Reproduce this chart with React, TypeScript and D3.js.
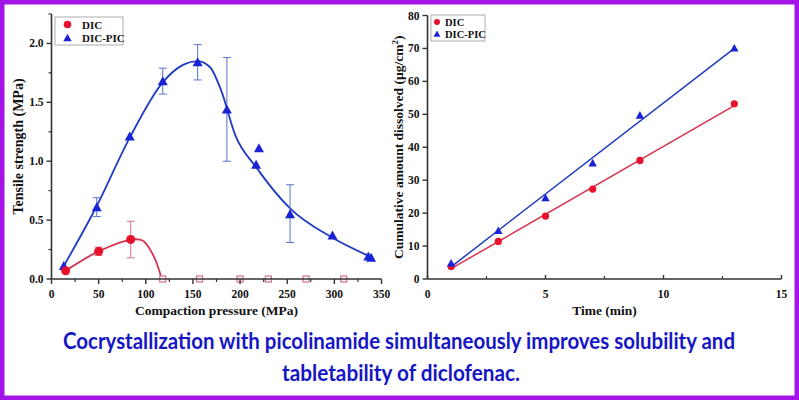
import React from "react";
import * as d3 from "d3";

// ---------- Left chart data ----------
const dicPicPressure = [13, 48, 83, 118, 155, 186, 217, 220, 253, 298, 336, 339];
const dicPicTensile = [0.11, 0.61, 1.21, 1.68, 1.84, 1.44, 0.97, 1.11, 0.55, 0.37, 0.19, 0.18];
const dicPicErrLow = [null, 0.53, null, 1.57, 1.69, 1.0, null, null, 0.31, null, null, null];
const dicPicErrHigh = [null, 0.69, null, 1.79, 1.99, 1.88, null, null, 0.8, null, null, null];

const dicPressure = [15, 50, 84];
const dicTensile = [0.07, 0.235, 0.335];
const dicErrLow = [null, 0.2, 0.18];
const dicErrHigh = [null, 0.27, 0.49];
const dicZeroPressure = [118, 157, 200, 230, 270, 310];

// smoothed fit curves
const dicPicFitX = [13, 48, 83, 118, 140, 155, 168, 180, 195, 217, 253, 298, 338];
const dicPicFitY = [0.11, 0.62, 1.2, 1.67, 1.82, 1.85, 1.8, 1.6, 1.22, 0.95, 0.6, 0.35, 0.19];
const dicFitX = [15, 50, 85, 97, 108, 117];
const dicFitY = [0.07, 0.235, 0.335, 0.325, 0.2, 0.0];

const leftXTicks = [0, 50, 100, 150, 200, 250, 300, 350];
const leftYTicks = [0, 0.5, 1.0, 1.5, 2.0];

// ---------- Right chart data ----------
const timeMin = [1, 3, 5, 7, 9, 13];
const dicCum = [3.8, 11.4, 19.1, 27.3, 36.0, 53.2];
const dicPicCum = [4.8, 14.7, 24.6, 35.2, 49.7, 70.1];
const rightXTicks = [0, 5, 10, 15];
const rightYTicks = [0, 10, 20, 30, 40, 50, 60, 70, 80];

const titleLines = [
  "Cocrystallization with picolinamide simultaneously improves solubility and",
  "tabletability of diclofenac.",
];

const RED = "#e8112d";
const RED_LINE = "#d6324f";
const RED_ERR = "#d9708a";
const BLUE = "#1a22d6";
const BLUE_LINE = "#1f3cc0";
const BLUE_ERR = "#5b70cc";
const AXIS = "#333";
const FONT = "'Liberation Serif', 'Times New Roman', serif";

function linFit(xs: number[], ys: number[]) {
  const mx = d3.mean(xs)!;
  const my = d3.mean(ys)!;
  let sxy = 0, sxx = 0;
  xs.forEach((x, i) => {
    sxy += (x - mx) * (ys[i] - my);
    sxx += (x - mx) * (x - mx);
  });
  const b = sxy / sxx;
  return { a: my - b * mx, b };
}

function Triangle({ x, y, s = 5, fill }: { x: number; y: number; s?: number; fill: string }) {
  return <path d={`M${x},${y - s}L${x + s},${y + s * 0.8}L${x - s},${y + s * 0.8}Z`} fill={fill} />;
}

export default function App() {
  // left scales
  const lx = d3.scaleLinear().domain([0, 350]).range([51.5, 381.5]);
  const ly = d3.scaleLinear().domain([0, 2.25]).range([279, 14]);
  // right scales
  const rx = d3.scaleLinear().domain([0, 15]).range([427.5, 781.5]);
  const ry = d3.scaleLinear().domain([0, 80]).range([279, 15.5]);

  const curve = d3.line<number>().curve(d3.curveMonotoneX);
  const blueFit = curve.x((_, i) => lx(dicPicFitX[i])).y((_, i) => ly(dicPicFitY[i]))(dicPicFitX)!;
  const curve2 = d3.line<number>().curve(d3.curveCatmullRom.alpha(0.5));
  const redFit = curve2.x((_, i) => lx(dicFitX[i])).y((_, i) => ly(dicFitY[i]))(dicFitX)!;

  const fr = linFit(timeMin, dicCum);
  const fb = linFit(timeMin, dicPicCum);

  const lxMinor = d3.range(25, 350, 50);
  const lyMinor = [0.25, 0.75, 1.25, 1.75, 2.25];
  const rxMinor = [2.5, 7.5, 12.5];

  const tickFont = { fontFamily: FONT, fontWeight: "bold" as const, fontSize: 11.5, fill: "#111" };

  return (
    <svg width={799} height={400} style={{ position: "absolute", left: 0, top: 0 }}>
      <rect x={0} y={0} width={799} height={400} fill="#fff" />
      <rect x={2} y={2} width={795} height={396} fill="none" stroke="#a514e6" strokeWidth={5} />

      {/* ===== LEFT CHART ===== */}
      <g>
        <path d={blueFit} fill="none" stroke={BLUE_LINE} strokeWidth={1.8} />
        <path d={redFit} fill="none" stroke={RED_LINE} strokeWidth={1.8} />
        {dicPicPressure.map((p, i) =>
          dicPicErrLow[i] != null ? (
            <g key={"be" + i} stroke={BLUE_ERR} strokeWidth={1}>
              <line x1={lx(p)} x2={lx(p)} y1={ly(dicPicErrLow[i]!)} y2={ly(dicPicErrHigh[i]!)} />
              <line x1={lx(p) - 4} x2={lx(p) + 4} y1={ly(dicPicErrLow[i]!)} y2={ly(dicPicErrLow[i]!)} />
              <line x1={lx(p) - 4} x2={lx(p) + 4} y1={ly(dicPicErrHigh[i]!)} y2={ly(dicPicErrHigh[i]!)} />
            </g>
          ) : null
        )}
        {dicPressure.map((p, i) =>
          dicErrLow[i] != null ? (
            <g key={"re" + i} stroke={RED_ERR} strokeWidth={1}>
              <line x1={lx(p)} x2={lx(p)} y1={ly(dicErrLow[i]!)} y2={ly(dicErrHigh[i]!)} />
              <line x1={lx(p) - 4} x2={lx(p) + 4} y1={ly(dicErrLow[i]!)} y2={ly(dicErrLow[i]!)} />
              <line x1={lx(p) - 4} x2={lx(p) + 4} y1={ly(dicErrHigh[i]!)} y2={ly(dicErrHigh[i]!)} />
            </g>
          ) : null
        )}
        {dicPicPressure.map((p, i) => (
          <Triangle key={"bt" + i} x={lx(p)} y={ly(dicPicTensile[i])} s={5} fill={BLUE} />
        ))}
        {dicPressure.map((p, i) => (
          <circle key={"rc" + i} cx={lx(p)} cy={ly(dicTensile[i])} r={4.5} fill={RED} />
        ))}
        {dicZeroPressure.map((p, i) => (
          <rect key={"rz" + i} x={lx(p) - 3} y={ly(0) - 3} width={6} height={6} fill="#fff" stroke={RED_ERR} strokeWidth={1.2} />
        ))}

        <line x1={lx(0)} x2={lx(350)} y1={ly(0)} y2={ly(0)} stroke={AXIS} strokeWidth={1.6} />
        <line x1={lx(0)} x2={lx(0)} y1={ly(0)} y2={ly(2.25)} stroke={AXIS} strokeWidth={1.6} />
        {leftXTicks.map((t) => (
          <g key={"lxt" + t}>
            <line x1={lx(t)} x2={lx(t)} y1={ly(0)} y2={ly(0) + 5} stroke={AXIS} strokeWidth={1.4} />
            <text x={lx(t)} y={ly(0) + 19} textAnchor="middle" {...tickFont}>{t}</text>
          </g>
        ))}
        {lxMinor.map((t) => (
          <line key={"lxm" + t} x1={lx(t)} x2={lx(t)} y1={ly(0)} y2={ly(0) + 3} stroke={AXIS} strokeWidth={1.2} />
        ))}
        {leftYTicks.map((t) => (
          <g key={"lyt" + t}>
            <line x1={lx(0) - 5} x2={lx(0)} y1={ly(t)} y2={ly(t)} stroke={AXIS} strokeWidth={1.4} />
            <text x={lx(0) - 8} y={ly(t) + 4} textAnchor="end" {...tickFont}>{t.toFixed(1)}</text>
          </g>
        ))}
        {lyMinor.map((t) => (
          <line key={"lym" + t} x1={lx(0) - 3} x2={lx(0)} y1={ly(t)} y2={ly(t)} stroke={AXIS} strokeWidth={1.2} />
        ))}
        <text x={(lx(0) + lx(350)) / 2} y={315} textAnchor="middle" fontFamily={FONT} fontWeight="bold" fontSize={13.5} fill="#111">
          Compaction pressure (MPa)
        </text>
        <text transform={`translate(23,${(ly(0) + ly(2.25)) / 2}) rotate(-90)`} textAnchor="middle" fontFamily={FONT} fontWeight="bold" fontSize={14} fill="#111">
          Tensile strength (MPa)
        </text>

        <rect x={55} y={17} width={68} height={28} fill="#fff" stroke="#999" strokeWidth={0.8} />
        <circle cx={67.5} cy={24.5} r={3.8} fill={RED} />
        <text x={82} y={28.5} fontFamily={FONT} fontWeight="bold" fontSize={11} fill="#111">DIC</text>
        <Triangle x={67.5} y={38} s={4.2} fill={BLUE} />
        <text x={82} y={42} fontFamily={FONT} fontWeight="bold" fontSize={11} fill="#111">DIC-PIC</text>
      </g>

      {/* ===== RIGHT CHART ===== */}
      <g>
        <line x1={rx(1)} x2={rx(13)} y1={ry(fr.a + fr.b * 1)} y2={ry(fr.a + fr.b * 13)} stroke={RED_LINE} strokeWidth={1.5} />
        <line x1={rx(1)} x2={rx(13)} y1={ry(fb.a + fb.b * 1)} y2={ry(fb.a + fb.b * 13)} stroke={BLUE_LINE} strokeWidth={1.5} />
        {timeMin.map((t, i) => (
          <circle key={"rc2" + i} cx={rx(t)} cy={ry(dicCum[i])} r={3.6} fill={RED} />
        ))}
        {timeMin.map((t, i) => (
          <Triangle key={"bt2" + i} x={rx(t)} y={ry(dicPicCum[i])} s={4.2} fill={BLUE} />
        ))}

        <line x1={rx(0)} x2={rx(15)} y1={ry(0)} y2={ry(0)} stroke={AXIS} strokeWidth={1.6} />
        <line x1={rx(0)} x2={rx(0)} y1={ry(0)} y2={ry(80)} stroke={AXIS} strokeWidth={1.6} />
        {rightXTicks.map((t) => (
          <g key={"rxt" + t}>
            <line x1={rx(t)} x2={rx(t)} y1={ry(0) - 4} y2={ry(0)} stroke={AXIS} strokeWidth={1.4} />
            <text x={rx(t)} y={ry(0) + 19} textAnchor="middle" {...tickFont}>{t}</text>
          </g>
        ))}
        {rxMinor.map((t) => (
          <line key={"rxm" + t} x1={rx(t)} x2={rx(t)} y1={ry(0) - 3} y2={ry(0)} stroke={AXIS} strokeWidth={1.2} />
        ))}
        {rightYTicks.map((t) => (
          <g key={"ryt" + t}>
            <line x1={rx(0) - 5} x2={rx(0)} y1={ry(t)} y2={ry(t)} stroke={AXIS} strokeWidth={1.4} />
            <text x={rx(0) - 8} y={ry(t) + 4} textAnchor="end" {...tickFont}>{t}</text>
          </g>
        ))}
        <text x={(rx(0) + rx(15)) / 2} y={315} textAnchor="middle" fontFamily={FONT} fontWeight="bold" fontSize={13.5} fill="#111">
          Time (min)
        </text>
        <text transform={`translate(403,${(ry(0) + ry(80)) / 2}) rotate(-90)`} textAnchor="middle" fontFamily={FONT} fontWeight="bold" fontSize={13.5} fill="#111">
          Cumulative amount dissolved (µg/cm<tspan dy={-5} fontSize={9}>2</tspan><tspan dy={5}>)</tspan>
        </text>

        <rect x={431} y={15} width={54} height={26} fill="#fff" stroke="#999" strokeWidth={0.8} />
        <circle cx={437} cy={22} r={3} fill={RED} />
        <text x={445} y={26} fontFamily={FONT} fontWeight="bold" fontSize={10.5} fill="#111">DIC</text>
        <Triangle x={437} y={34} s={3.5} fill={BLUE} />
        <text x={445} y={38} fontFamily={FONT} fontWeight="bold" fontSize={10.5} fill="#111">DIC-PIC</text>
      </g>

      {/* ===== TITLE ===== */}
      <text x={399} y={349} textAnchor="middle" fontFamily="Lato, 'Open Sans', sans-serif" fontWeight="bold" fontSize={22} fill="#1616c4" textLength={672} lengthAdjust="spacingAndGlyphs">
        {titleLines[0]}
      </text>
      <text x={401} y={381} textAnchor="middle" fontFamily="Lato, 'Open Sans', sans-serif" fontWeight="bold" fontSize={22} fill="#1616c4" textLength={238} lengthAdjust="spacingAndGlyphs">
        {titleLines[1]}
      </text>
    </svg>
  );
}
